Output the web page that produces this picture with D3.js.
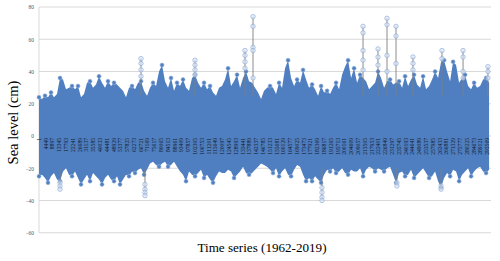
<!DOCTYPE html>
<html>
<head>
<meta charset="utf-8">
<script src="https://cdn.jsdelivr.net/npm/d3@7/dist/d3.min.js"></script>
<style>
  html, body { margin: 0; padding: 0; background: #fff; }
  svg { display: block; }
</style>
</head>
<body>
<div id="chart"></div>
<script>
// hourly record length and sampling of the envelope
const N = 296000;
const BIN = 1965;

// upper envelope of the band (cm), one value per bin
const hiVals = [
  24,23,25,24,27,24,26,36,35,29,
  30,31,29,31,24,26,33,34,30,32,
  37,33,30,34,31,33,32,30,28,24,
  30,31,29,33,34,28,25,30,33,31,
  40,44,34,30,36,28,33,31,35,30,
  28,36,38,33,30,33,29,31,27,25,
  30,31,35,42,31,34,38,30,36,40,
  34,33,30,27,23,28,30,31,30,26,
  33,30,42,47,36,31,35,33,41,35,
  30,32,29,25,31,27,28,26,30,33,
  29,38,43,47,36,42,33,38,36,34,
  29,31,33,40,36,30,34,35,32,33,
  34,30,37,31,35,38,32,30,37,29,
  31,35,40,36,46,47,40,34,46,44,
  33,36,38,31,29,33,30,31,35,36,
  33
];

// lower envelope of the band (cm)
const loVals = [
  -25,-24,-26,-29,-25,-23,-27,-28,-22,-20,
  -24,-25,-22,-26,-30,-27,-24,-28,-23,-25,
  -27,-30,-26,-24,-27,-28,-25,-30,-27,-24,
  -25,-22,-23,-21,-20,-24,-21,-17,-16,-18,
  -19,-17,-16,-19,-18,-16,-19,-22,-24,-28,
  -22,-24,-25,-23,-21,-26,-24,-27,-29,-25,
  -22,-23,-23,-21,-22,-26,-24,-22,-19,-23,
  -24,-23,-21,-19,-17,-18,-19,-21,-23,-20,
  -25,-22,-20,-24,-25,-21,-18,-19,-24,-28,
  -26,-28,-25,-27,-29,-24,-21,-22,-20,-23,
  -22,-20,-23,-24,-21,-22,-22,-20,-25,-21,
  -19,-20,-22,-20,-21,-22,-20,-19,-24,-29,
  -23,-22,-25,-24,-21,-26,-24,-22,-20,-23,
  -26,-25,-22,-28,-32,-26,-23,-25,-21,-22,
  -28,-24,-22,-20,-25,-22,-20,-19,-22,-23,
  -21
];

// isolated surge events (sample index, stacked readings in cm)
const spikeIdx = [66800, 102160, 134900, 140150, 212200, 222000, 227900, 233800, 244900, 263900, 277700, 294000,
                  13750, 69400, 185300, 234400, 263300];
const spikeVals = [
  [48, 45, 41, 37],
  [47, 44, 41, 38],
  [53, 50, 46, 42],
  [74, 68, 55, 53, 36],
  [68, 64, 53, 47, 41],
  [54, 49, 44],
  [73, 69, 50, 40],
  [68, 62, 45],
  [49, 45, 41],
  [53, 48],
  [53, 49, 40, 36],
  [43, 40, 36],
  [-29, -31, -33],
  [-30, -33, -35, -37],
  [-32, -35, -38, -40],
  [-29, -31],
  [-31, -33]
];

// category labels shown on the axis
const xTickLabels = [1, 4449, 8897, 13345, 17793, 22241, 26689, 31137, 35585, 40033,
  44481, 48929, 53377, 57825, 62273, 66721, 71169, 75617, 80065, 84513,
  88961, 93409, 97857, 102305, 106753, 111201, 115649, 120097, 124545, 128993,
  133441, 137889, 142337, 146785, 151233, 155681, 160129, 164577, 169025, 173473,
  177921, 182369, 186817, 191265, 195713, 200161, 204609, 209057, 213505, 217953,
  222401, 226849, 231297, 235745, 240193, 244641, 249089, 253537, 257985, 262433,
  266881, 271329, 275777, 280225, 284673, 289121, 293569];
const yTicks = [-60, -40, -20, 0, 20, 40, 60, 80];

class SeaLevelChart {
  constructor(containerId) {
    this.container = d3.select(`#${containerId}`);
    this.W = 500;
    this.H = 261;
    this.margin = { top: 7, right: 9, bottom: 28.25, left: 39 };
    this.width = this.W - this.margin.left - this.margin.right;
    this.height = this.H - this.margin.top - this.margin.bottom;
    this.serif = "'Liberation Serif', 'Times New Roman', serif";

    this.setupChart();
    this.drawGrid();
    this.drawBand();
    this.drawSpikes();
    this.drawLabels();
  }

  setupChart() {
    this.svg = this.container.append("svg")
      .attr("width", this.W)
      .attr("height", this.H);
    this.g = this.svg.append("g")
      .attr("transform", `translate(${this.margin.left},${this.margin.top})`);

    this.x = d3.scaleLinear().domain([1, N]).range([0, this.width]);
    this.y = d3.scaleLinear().domain([-60, 80]).range([this.height, 0]);

    this.band = hiVals.map((h, i) => ({ idx: 1 + i * BIN, hi: h, lo: loVals[i] }));
  }

  drawGrid() {
    // Grade
    this.g.append("g").selectAll("line").data(yTicks).join("line")
      .attr("x1", 0).attr("x2", this.width)
      .attr("y1", d => this.y(d)).attr("y2", d => this.y(d))
      .attr("stroke", "#d9d9d9").attr("stroke-width", 1);

    this.g.append("line")
      .attr("x1", 0).attr("x2", 0)
      .attr("y1", 0).attr("y2", this.height)
      .attr("stroke", "#d9d9d9");

    const yAxis = this.g.append("g")
      .call(d3.axisLeft(this.y).tickValues(yTicks).tickSize(0).tickPadding(5));
    yAxis.select(".domain").remove();
    yAxis.selectAll("text")
      .attr("font-family", this.serif)
      .attr("font-size", 5.5)
      .attr("fill", "#595959");
  }

  drawBand() {
    const area = d3.area()
      .x(d => this.x(d.idx))
      .y0(d => this.y(d.lo))
      .y1(d => this.y(d.hi));

    this.g.append("path")
      .datum(this.band)
      .attr("d", area)
      .attr("fill", "#4f7fc1");

    // marcadores só nos picos locais
    const b = this.band;
    const edge = [];
    b.forEach((d, i) => {
      const p = b[i - 1], n = b[i + 1];
      if ((!p || d.hi > p.hi) && (!n || d.hi > n.hi)) edge.push({ idx: d.idx, v: d.hi });
      if ((!p || d.lo < p.lo) && (!n || d.lo < n.lo)) edge.push({ idx: d.idx, v: d.lo });
    });
    this.g.append("g").selectAll("circle").data(edge).join("circle")
      .attr("cx", d => this.x(d.idx))
      .attr("cy", d => this.y(d.v))
      .attr("r", 2)
      .attr("fill", "#4f7fc1")
      .attr("stroke", "#9bb6de")
      .attr("stroke-width", 0.6);
  }

  drawSpikes() {
    const spikes = spikeIdx.map((idx, i) => ({ idx, vals: spikeVals[i] }));
    const sg = this.g.append("g");

    sg.selectAll("line").data(spikes).join("line")
      .attr("x1", d => this.x(d.idx)).attr("x2", d => this.x(d.idx))
      .attr("y1", d => this.y(d3.max(d.vals, Math.abs) * Math.sign(d.vals[0])))
      .attr("y2", d => this.y(d.vals[0] > 0 ? 25 : -20))
      .attr("stroke", "#7f7f7f")
      .attr("stroke-width", 0.9);

    const pts = spikes.flatMap(d => d.vals.map(v => ({ idx: d.idx, v })));
    sg.selectAll("circle").data(pts).join("circle")
      .attr("cx", d => this.x(d.idx))
      .attr("cy", d => this.y(d.v))
      .attr("r", 2.2)
      .attr("fill", "#dfe8f5")
      .attr("fill-opacity", 0.6)
      .attr("stroke", "#8eaedb")
      .attr("stroke-width", 0.7);
  }

  drawLabels() {
    // rótulos das categorias sobre a série
    this.g.append("g").selectAll("text").data(xTickLabels).join("text")
      .attr("transform", d => `translate(${this.x(d) + 1.8},${this.y(0) + 2}) rotate(-90)`)
      .attr("text-anchor", "end")
      .attr("font-family", this.serif)
      .attr("font-size", 5.6)
      .attr("fill", "#111827")
      .text(d => d);

    this.svg.append("text")
      .attr("transform", `translate(17.5,${122.5}) rotate(-90)`)
      .attr("text-anchor", "middle")
      .attr("font-family", this.serif)
      .attr("font-size", 14.5)
      .attr("fill", "#000")
      .text("Sea level (cm)");

    this.svg.append("text")
      .attr("x", 262)
      .attr("y", 252)
      .attr("text-anchor", "middle")
      .attr("font-family", this.serif)
      .attr("font-size", 13.1)
      .attr("fill", "#000")
      .text("Time series (1962-2019)");
  }
}

new SeaLevelChart("chart");
</script>
</body>
</html>
